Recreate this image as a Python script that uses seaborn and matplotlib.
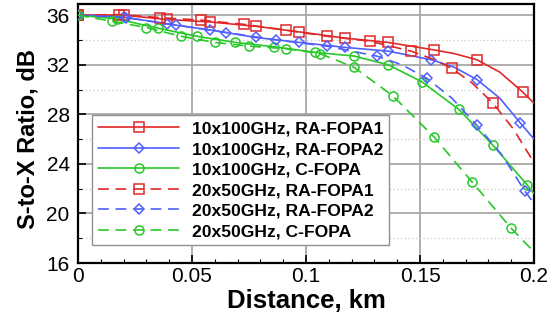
import numpy as np
import matplotlib
matplotlib.use("Agg")
import matplotlib.pyplot as plt
from matplotlib.ticker import MultipleLocator, FixedLocator
import seaborn as sns

# values (marker positions plus a few in-between points)
red_solid_x = [0, 0.02, 0.039, 0.058, 0.078, 0.097, 0.117, 0.136, 0.156, 0.165, 0.175, 0.185, 0.195, 0.2]
red_solid_y = [36.0, 36.0, 35.65, 35.45, 35.1, 34.65, 34.15, 33.8, 33.2, 32.9, 32.4, 31.4, 29.8, 28.9]
red_solid_marks = [0, 1, 2, 3, 4, 5, 6, 7, 8, 10, 12]

blue_solid_x = [0, 0.02, 0.039, 0.058, 0.078, 0.097, 0.117, 0.136, 0.155, 0.165, 0.175, 0.185, 0.194, 0.2]
blue_solid_y = [36.0, 35.85, 35.3, 34.8, 34.2, 33.8, 33.4, 33.1, 32.4, 31.8, 30.8, 29.3, 27.3, 26.0]
blue_solid_marks = [0, 1, 2, 3, 4, 5, 6, 7, 8, 10, 12]

green_solid_x = [0, 0.017, 0.035, 0.052, 0.069, 0.086, 0.104, 0.121, 0.136, 0.151, 0.167, 0.182, 0.197, 0.2]
green_solid_y = [36.0, 35.7, 34.95, 34.3, 33.8, 33.45, 33.0, 32.7, 32.0, 30.6, 28.4, 25.5, 22.3, 21.6]
green_solid_marks = list(range(13))

red_dash_x = [0, 0.018, 0.036, 0.054, 0.073, 0.091, 0.109, 0.128, 0.146, 0.155, 0.164, 0.173, 0.182, 0.191, 0.2]
red_dash_y = [36.0, 36.05, 35.8, 35.6, 35.25, 34.8, 34.3, 33.9, 33.1, 32.5, 31.7, 30.5, 28.9, 26.8, 24.1]
red_dash_marks = [0, 1, 2, 3, 4, 5, 6, 7, 8, 10, 12]

blue_dash_x = [0, 0.021, 0.043, 0.065, 0.087, 0.109, 0.131, 0.142, 0.153, 0.164, 0.175, 0.186, 0.196, 0.2]
blue_dash_y = [36.0, 35.8, 35.2, 34.6, 34.0, 33.5, 32.7, 32.0, 30.9, 29.3, 27.1, 24.7, 21.8, 20.8]
blue_dash_marks = [0, 1, 2, 3, 4, 5, 6, 8, 10, 12]

green_dash_x = [0, 0.015, 0.03, 0.045, 0.06, 0.075, 0.091, 0.106, 0.121, 0.138, 0.156, 0.173, 0.19, 0.2]
green_dash_y = [36.0, 35.5, 35.0, 34.3, 33.8, 33.5, 33.3, 32.9, 31.8, 29.5, 26.2, 22.5, 18.8, 16.9]
green_dash_marks = list(range(13))

x_ticks = [0, 0.05, 0.1, 0.15, 0.2]
x_ticklabels = ["0", "0.05", "0.1", "0.15", "0.2"]
y_ticks = [16, 20, 24, 28, 32, 36]

sns.set_style("ticks")
plt.rcParams['font.family'] = ['Liberation Sans', 'DejaVu Sans']
plt.rcParams.update({"text.color": "black", "axes.labelcolor": "black",
                     "xtick.color": "black", "ytick.color": "black"})

RED = "#e02828"
BLUE = "#5060ff"
GREEN = "#28c828"
DASH = (0, (6.5, 4))

fig = plt.figure(figsize=(5.51, 3.2), dpi=100)
ax = fig.add_axes([0.1416, 0.178, 0.8276, 0.8095])

series = [
    (red_solid_x, red_solid_y, red_solid_marks, RED, "-", "s", "10x100GHz, RA-FOPA1"),
    (blue_solid_x, blue_solid_y, blue_solid_marks, BLUE, "-", "D", "10x100GHz, RA-FOPA2"),
    (green_solid_x, green_solid_y, green_solid_marks, GREEN, "-", "o", "10x100GHz, C-FOPA"),
    (red_dash_x, red_dash_y, red_dash_marks, RED, DASH, "s", "20x50GHz, RA-FOPA1"),
    (blue_dash_x, blue_dash_y, blue_dash_marks, BLUE, DASH, "D", "20x50GHz, RA-FOPA2"),
    (green_dash_x, green_dash_y, green_dash_marks, GREEN, DASH, "o", "20x50GHz, C-FOPA"),
]

for xs, ys, marks, col, ls, mk, lab in series:
    sns.lineplot(x=xs, y=ys, ax=ax, color=col, linestyle=ls, linewidth=1.2,
                 marker=mk, markevery=marks, markersize=6.5 if mk != "D" else 5.5,
                 markerfacecolor="none", markeredgecolor=col, markeredgewidth=1.1,
                 label=lab, zorder=3)

ax.set_xlim(0, 0.2)
ax.set_ylim(16, 36.9)
ax.xaxis.set_major_locator(FixedLocator(x_ticks))
ax.set_xticklabels(x_ticklabels)
ax.xaxis.set_minor_locator(MultipleLocator(0.01))
ax.yaxis.set_major_locator(FixedLocator(y_ticks))
ax.yaxis.set_minor_locator(MultipleLocator(2))
ax.tick_params(which="major", direction="in", length=6, width=1.2, labelsize=15,
               top=False, right=False)
ax.tick_params(which="minor", direction="in", length=3, width=0.8, top=False, right=False)
ax.tick_params(axis="x", pad=3)
ax.tick_params(axis="y", pad=6)

ax.grid(which="major", color="#a8a8a8", linewidth=1.3, linestyle="-", zorder=0)
ax.grid(which="minor", axis="y", color="#c8c8c8", linewidth=0.9, linestyle=(0, (1, 2)), zorder=0)
ax.set_axisbelow(True)
for sp in ax.spines.values():
    sp.set_color("black")
    sp.set_linewidth(1.6)

ax.set_xlabel("Distance, km", fontsize=18.5, fontweight="bold")
ax.set_ylabel("S-to-X Ratio, dB", fontsize=17, fontweight="bold")
ax.xaxis.set_label_coords(0.5, -0.1)
ax.yaxis.set_label_coords(-0.085, 0.48)

leg = ax.legend(loc="lower left", bbox_to_anchor=(0.031, 0.069), borderaxespad=0,
                prop={"weight": "bold", "size": 12.6}, handlelength=4.6, handletextpad=0.75,
                labelspacing=0.3, borderpad=0.35, fancybox=False, framealpha=1,
                edgecolor="#909090", numpoints=1)
leg.get_frame().set_linewidth(1.0)

fig.savefig("out.png", dpi=100)
